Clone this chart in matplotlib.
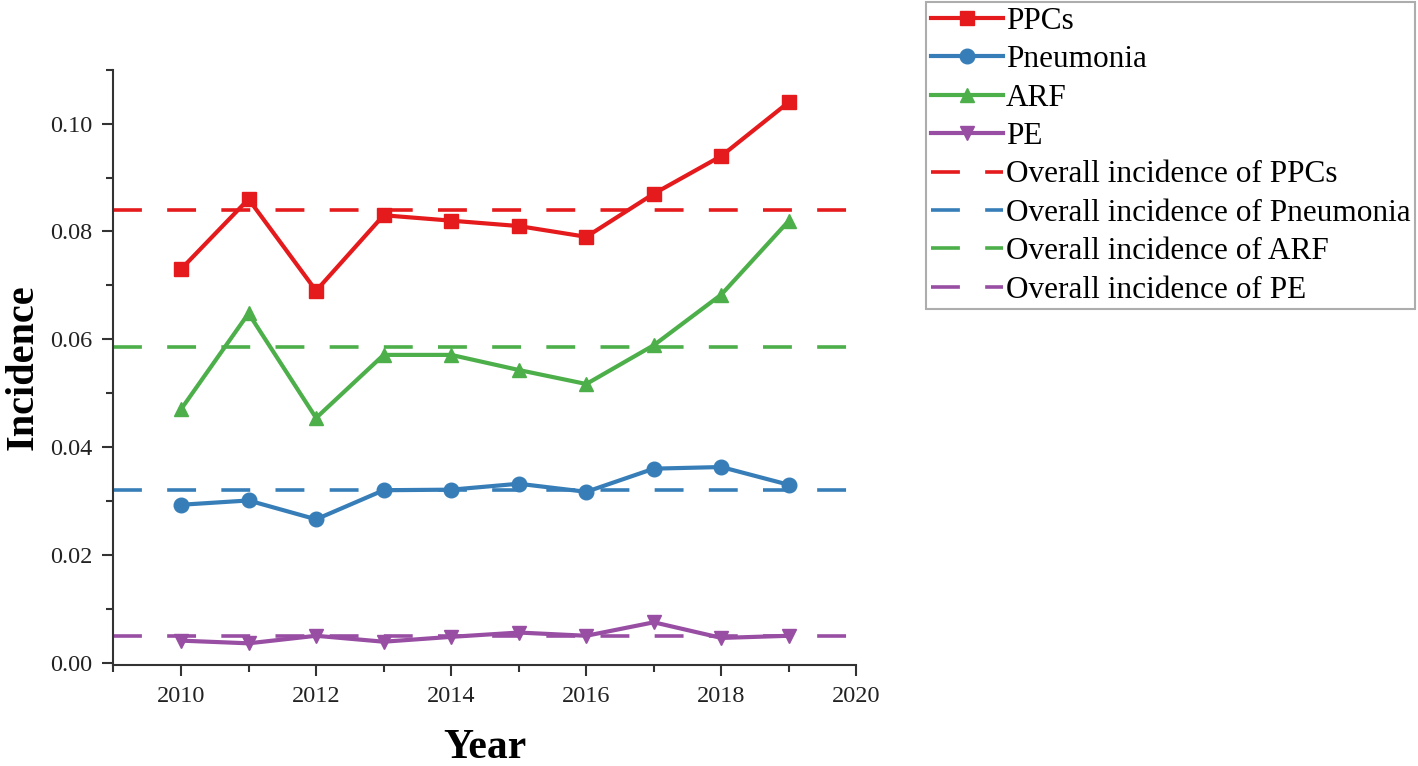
import numpy as np
import matplotlib.pyplot as plt
from matplotlib.ticker import MultipleLocator

# Dados
years = [2010, 2011, 2012, 2013, 2014, 2015, 2016, 2017, 2018, 2019]
ppcs = [0.073, 0.086, 0.069, 0.083, 0.082, 0.081, 0.079, 0.087, 0.094, 0.104]
pneumonia = [0.0293, 0.0301, 0.0266, 0.0320, 0.0321, 0.0332, 0.0317, 0.0360, 0.0363, 0.0330]
arf = [0.0470, 0.0648, 0.0454, 0.0571, 0.0571, 0.0543, 0.0517, 0.0589, 0.0683, 0.0820]
pe = [0.0041, 0.0036, 0.0050, 0.0039, 0.0048, 0.0056, 0.0050, 0.0075, 0.0046, 0.0050]

series_names = ["PPCs", "Pneumonia", "ARF", "PE"]
overall = [0.0839, 0.0320, 0.0585, 0.0050]

colors = ["#E41A1C", "#377EB8", "#4DAF4A", "#984EA3"]
markers = ["s", "o", "^", "v"]

plt.rcParams['font.family'] = ['Liberation Serif', 'DejaVu Serif']

fig = plt.figure(figsize=(14.18, 7.66), dpi=100)
ax = fig.add_axes([0.080, 0.132, 0.524, 0.777])

handles = []
for name, vals, c, m in zip(series_names, [ppcs, pneumonia, arf, pe], colors, markers):
    h, = ax.plot(years, vals, color=c, marker=m, markersize=10.5, linewidth=3.0, label=name)
    handles.append(h)

# Linhas tracejadas da incidência geral
for name, val, c in zip(series_names, overall, colors):
    h = ax.axhline(val, color=c, linewidth=2.6, linestyle=(0, (8, 7)),
                   label="Overall incidence of " + name)
    handles.append(h)

ax.set_xlim(2009, 2020)
ax.set_ylim(-0.0004, 0.11)
ax.xaxis.set_major_locator(MultipleLocator(2))
ax.xaxis.set_minor_locator(MultipleLocator(1))
ax.yaxis.set_major_locator(MultipleLocator(0.02))
ax.yaxis.set_minor_locator(MultipleLocator(0.01))
ax.yaxis.set_major_formatter(plt.FuncFormatter(lambda v, p: f"{v:.2f}"))

for s in ["top", "right"]:
    ax.spines[s].set_visible(False)
for s in ["left", "bottom"]:
    ax.spines[s].set_linewidth(1.5)
    ax.spines[s].set_color("#333333")

ax.tick_params(axis="both", which="major", direction="out", length=8, width=1.5,
               labelsize=17.5, colors="#333333", labelcolor="#222222", pad=7)
ax.tick_params(axis="both", which="minor", direction="out", length=5, width=1.5, colors="#333333")

ax.set_xlabel("Year", fontsize=30, fontweight="bold", labelpad=16)
ax.set_ylabel("Incidence", fontsize=29, fontweight="bold", labelpad=6)

leg = fig.legend(handles=handles, loc="upper left", bbox_to_anchor=(0.653, 0.997),
                 fontsize=22.5, handlelength=2.3, handletextpad=0.1, labelspacing=0.3,
                 borderpad=0.15, frameon=True, fancybox=False, borderaxespad=0)
leg.get_frame().set_edgecolor("#999999")
leg.get_frame().set_linewidth(1.5)

fig.savefig("out.png", dpi=100)
